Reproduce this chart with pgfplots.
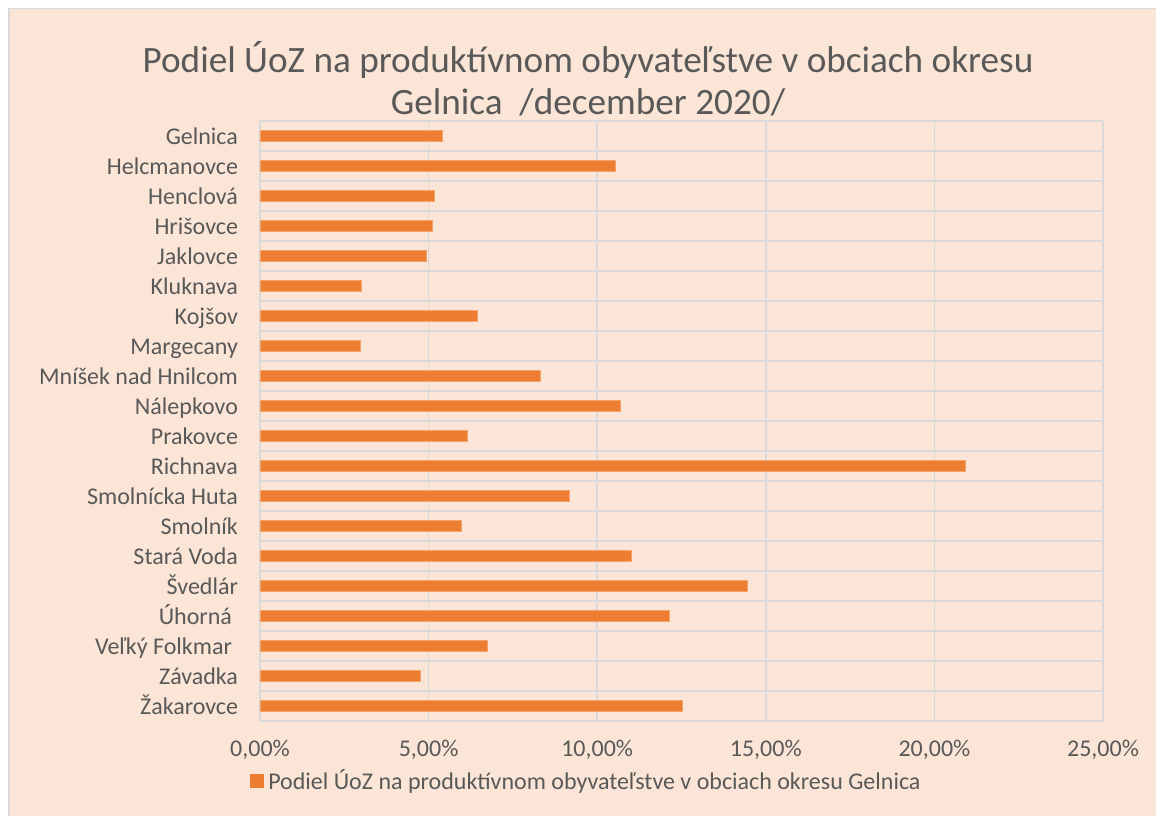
\documentclass[border=0pt]{standalone}
\usepackage{pgfplots}
\pgfplotsset{compat=1.18}
\usepackage{fontspec}
\setmainfont{Carlito}
\definecolor{bg}{HTML}{FBE5D6}
\definecolor{bar}{HTML}{ED7D31}
\definecolor{baredge}{HTML}{F4A46B}
\definecolor{gridc}{HTML}{D9D9D9}
\definecolor{txt}{HTML}{595959}
\begin{document}
\begin{tikzpicture}
\useasboundingbox (0,0) rectangle (578pt,407.5pt);
\fill[white] (0,0) rectangle (578pt,407.5pt);
\draw[fill=bg, draw=gridc, line width=0.8pt] (4.5pt,-3pt) rectangle (582pt,403.2pt);
\node[text=txt, font=\fontsize{18.6}{21}\selectfont, align=center] at (294pt,368pt)
  {Podiel ÚoZ na produktívnom obyvateľstve v obciach okresu\\Gelnica \ /december 2020/};
\begin{axis}[
  at={(130pt,47pt)}, anchor=south west,
  scale only axis, width=421.5pt, height=300pt,
  xbar, bar width=5.5pt,
  xmin=0, xmax=25,
  ymin=-0.5, ymax=19.5, y dir=reverse,
  xtick={0,5,10,15,20,25},
  xticklabels={{0,00\%},{5,00\%},{10,00\%},{15,00\%},{20,00\%},{25,00\%}},
  ytick={0,...,19},
  yticklabels={Gelnica,Helcmanovce,Henclová,Hrišovce,Jaklovce,Kluknava,Kojšov,Margecany,Mníšek nad Hnilcom,Nálepkovo,Prakovce,Richnava,Smolnícka Huta,Smolník,Stará Voda,Švedlár,{Úhorná\kern3pt},{Veľký Folkmar\kern3pt},Závadka,Žakarovce},
  minor ytick={-0.5,0.5,...,19.5},
  ymajorgrids=false, yminorgrids=true, xmajorgrids=true,
  grid style={draw=gridc, line width=0.8pt},
  minor grid style={draw=gridc, line width=0.8pt},
  axis line style={draw=none},
  major tick length=0pt, minor tick length=0pt,
  tick label style={text=txt, font=\fontsize{12}{14}\selectfont},
  xticklabel shift=6pt,
  yticklabel shift=7.5pt,
  yticklabel style={anchor=base east, yshift=-4pt},
  legend style={at={(axis description cs:-0.012,-0.1)}, anchor=west, draw=none, fill=none,
    text=txt, font=\fontsize{12}{14}\selectfont, inner sep=0pt},
  legend image code/.code={\fill[bar] (0pt,-3.3pt) rectangle (6.6pt,3.3pt);},
]
\addplot[fill=bar, draw=baredge, line width=0.4pt] coordinates {
(5.42,0) (10.53,1) (5.16,2) (5.12,3) (4.92,4) (3.01,5) (6.46,6) (2.99,7) (8.33,8) (10.70,9)
(6.15,10) (20.92,11) (9.17,12) (5.97,13) (11.02,14) (14.44,15) (12.15,16) (6.75,17) (4.77,18) (12.54,19)
};
\addlegendentry{Podiel ÚoZ na produktívnom obyvateľstve v obciach okresu Gelnica}
\end{axis}
\end{tikzpicture}
\end{document}
